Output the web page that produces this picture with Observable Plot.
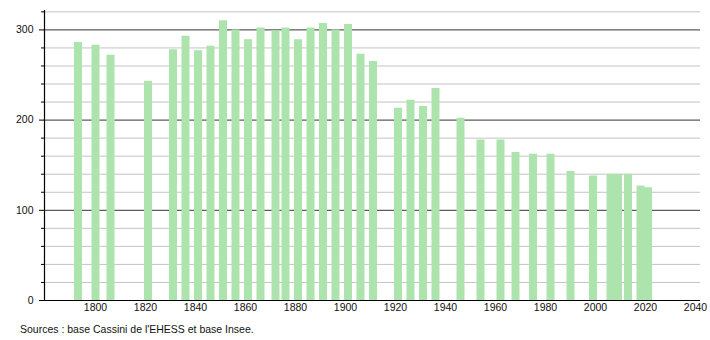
<!DOCTYPE html>
<html>
<head>
<meta charset="utf-8">
<script src="https://cdn.jsdelivr.net/npm/d3@7"></script>
<script src="https://cdn.jsdelivr.net/npm/@observablehq/plot@0.6"></script>
<style>
  body { margin: 0; background: #fff; font-family: "Liberation Sans", Arial, sans-serif; }
  #caption { font-size: 10.5px; color: #111; margin: 4px 0 0 20px; line-height: 14px; }
</style>
</head>
<body>
<div id="chart"></div>
<div id="caption">Sources : base Cassini de l'EHESS et base Insee.</div>
<script>
const years = [1793,1800,1806,1821,1831,1836,1841,1846,1851,1856,1861,1866,1872,1876,1881,1886,1891,1896,1901,1906,1911,1921,1926,1931,1936,1946,1954,1962,1968,1975,1982,1990,1999,2006,2009,2013,2018,2021];
const population = [286,283,272,243,278,293,277,282,310,300,289,302,299,302,289,302,307,300,306,273,265,213,222,215,235,202,178,178,164,162,162,143,138,140,140,140,127,125];
const xTicks = [1800,1820,1840,1860,1880,1900,1920,1940,1960,1980,2000,2020,2040];
const yMajor = [0,100,200,300];
const yMinor = [20,40,60,80,120,140,160,180,220,240,260,280,320];
const captionText = "Sources : base Cassini de l'EHESS et base Insee.";

const data = years.map((year, i) => ({year, pop: population[i]}));

const chart = Plot.plot({
  width: 710,
  height: 318,
  marginLeft: 44,
  marginRight: 10,
  marginTop: 10,
  marginBottom: 18,
  style: {fontFamily: "Liberation Sans, Arial, sans-serif", fontSize: "10.5px", color: "#111"},
  x: {domain: [1779.6, 2042], label: null},
  y: {domain: [0, 321.5], label: null},
  marks: [
    Plot.ruleY(yMinor, {stroke: "#c4c4c4", strokeWidth: 1}),
    Plot.ruleY(yMajor.filter(d => d > 0), {stroke: "#333", strokeWidth: 1}),
    Plot.ruleX(data, {x: "year", y1: 0, y2: "pop", stroke: "#ade3ad", strokeWidth: 8}),
    Plot.ruleY([0], {stroke: "#000", strokeWidth: 1.2}),
    Plot.frame({anchor: "left", stroke: "#000", strokeWidth: 1.2}),
    Plot.axisY({ticks: yMinor, tickSize: 3, tickFormat: () => "", stroke: "#000"}),
    Plot.axisY({ticks: yMajor, tickSize: 5, tickPadding: 6, tickFormat: d3.format("d"), stroke: "#000"}),
    Plot.axisX({ticks: xTicks, tickSize: 0, tickPadding: 3, tickFormat: d3.format("d")})
  ]
});
document.getElementById("chart").appendChild(chart);
document.getElementById("caption").textContent = captionText;
</script>
</body>
</html>
